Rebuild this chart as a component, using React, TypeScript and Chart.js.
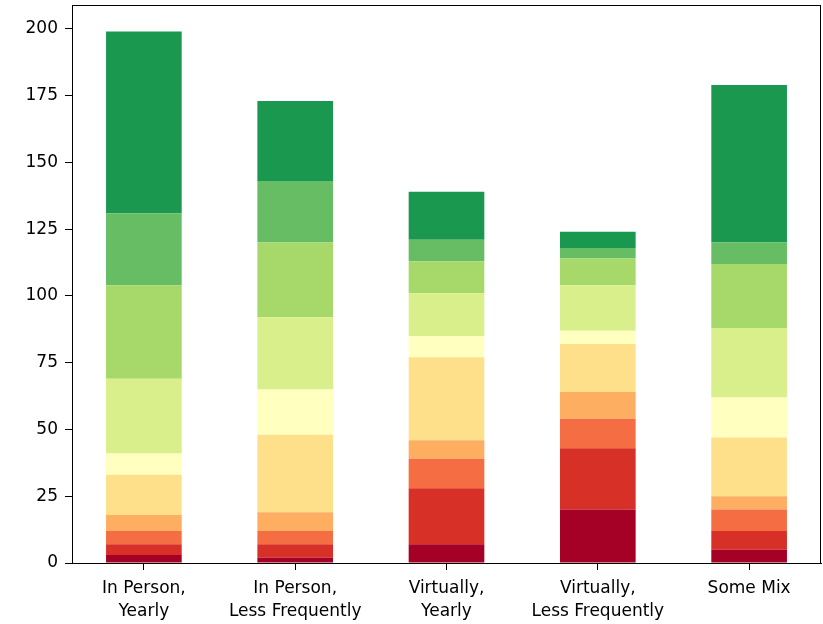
import React, { useEffect, useRef } from 'react';
import { Chart, registerables } from 'chart.js';

Chart.register(...registerables);

const categories: string[][] = [
  ['In Person,', 'Yearly'],
  ['In Person,', 'Less Frequently'],
  ['Virtually,', 'Yearly'],
  ['Virtually,', 'Less Frequently'],
  ['Some Mix'],
];

// stacked levels, bottom to top
const level0 = [3, 2, 7, 20, 5];
const level1 = [4, 5, 21, 23, 7];
const level2 = [5, 5, 11, 11, 8];
const level3 = [6, 7, 7, 10, 5];
const level4 = [15, 29, 31, 18, 22];
const level5 = [8, 17, 8, 5, 15];
const level6 = [28, 27, 16, 17, 26];
const level7 = [35, 28, 12, 10, 24];
const level8 = [27, 23, 8, 4, 8];
const level9 = [68, 30, 18, 6, 59];

const levels = [level0, level1, level2, level3, level4, level5, level6, level7, level8, level9];
const colors = ['#a50026', '#d73027', '#f46d43', '#fdae61', '#fee08b', '#ffffbf', '#d9ef8b', '#a6d96a', '#66bd63', '#1a9850'];

const yTicks = [0, 25, 50, 75, 100, 125, 150, 175, 200];

const frame = {
  id: 'frame',
  afterDraw(chart: any) {
    const { ctx, chartArea } = chart;
    ctx.save();
    ctx.strokeStyle = '#000';
    ctx.lineWidth = 1;
    ctx.strokeRect(
      Math.round(chartArea.left) + 0.5,
      Math.round(chartArea.top) + 0.5,
      Math.round(chartArea.right - chartArea.left) - 1,
      Math.round(chartArea.bottom - chartArea.top)
    );
    ctx.restore();
  },
};

export default function App() {
  const ref = useRef<HTMLCanvasElement | null>(null);
  useEffect(() => {
    document.body.style.margin = '0';
    const font = { family: '"DejaVu Sans", sans-serif', size: 17 };
    const chart = new Chart(ref.current as HTMLCanvasElement, {
      type: 'bar',
      data: {
        datasets: levels.map((lv, i) => ({
          label: 'L' + i,
          data: lv.map((v, j) => ({ x: j, y: v })),
          backgroundColor: colors[i],
          borderWidth: 0,
          barPercentage: 0.5,
          categoryPercentage: 1,
        })),
      },
      options: {
        animation: false,
        responsive: false,
        maintainAspectRatio: false,
        layout: { padding: { top: 5, right: 2, left: 0, bottom: 0 } },
        plugins: { legend: { display: false }, tooltip: { enabled: false } },
        scales: {
          x: {
            type: 'linear',
            stacked: true,
            offset: false,
            min: -0.475,
            max: 4.475,
            afterBuildTicks: (scale: any) => {
              scale.ticks = categories.map((_, i) => ({ value: i }));
            },
            afterFit: (scale: any) => {
              scale.height = 61;
              scale.paddingLeft = 0;
              scale.paddingRight = 0;
            },
            grid: { display: true, drawOnChartArea: false, drawTicks: true, offset: false, tickLength: 7, color: '#000' },
            border: { display: true, color: '#000' },
            ticks: {
              color: '#000',
              font: { ...font, lineHeight: 1.35 },
              padding: 7,
              maxRotation: 0,
              autoSkip: false,
              callback: (v: any) => categories[Math.round(Number(v))] ?? '',
            },
          },
          y: {
            type: 'linear',
            stacked: true,
            min: 0,
            max: 208.95,
            afterBuildTicks: (scale: any) => {
              scale.ticks = yTicks.map((v) => ({ value: v }));
            },
            afterFit: (scale: any) => {
              scale.width = 72;
              scale.paddingTop = 0;
              scale.paddingBottom = 0;
            },
            grid: { display: true, drawOnChartArea: false, drawTicks: true, tickLength: 7, color: '#000' },
            border: { display: true, color: '#000' },
            ticks: { color: '#000', font, padding: 7 },
          },
        },
      },
      plugins: [frame],
    });
    return () => chart.destroy();
  }, []);
  return (
    <div style={{ position: 'absolute', left: 0, top: 0, width: 823, height: 624, background: '#fff' }}>
      <canvas ref={ref} width={823} height={624} style={{ width: 823, height: 624 }} />
    </div>
  );
}
